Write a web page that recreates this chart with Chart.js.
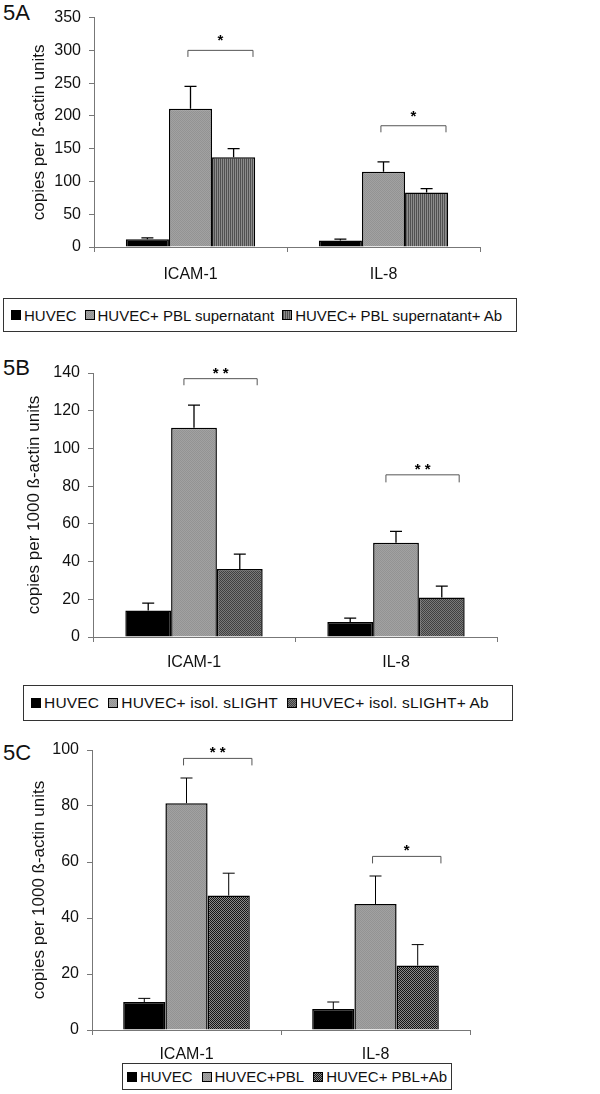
<!DOCTYPE html>
<html>
<head>
<meta charset="utf-8">
<script src="https://cdn.jsdelivr.net/npm/chart.js@4.4.1/dist/chart.umd.min.js"></script>
<style>
  html, body { margin:0; padding:0; background:#fff; }
  body { width:600px; height:1094px; position:relative; overflow:hidden; font-family:'Liberation Sans', Arial, sans-serif; color:#111; }
  canvas { position:absolute; left:0; }
  .plabel { position:absolute; left:3px; font-size:22px; line-height:22px; }
  .legend { position:absolute; border:1px solid #333; box-sizing:border-box; display:flex; align-items:center; white-space:nowrap; background:#fff; z-index:2; }
  .legend .item { display:flex; align-items:center; }
  .legend .sw { display:inline-block; width:10px; height:10px; border:1px solid #000; box-sizing:border-box; margin-right:3px; }
</style>
</head>
<body>
<div class="plabel" style="top:2px">5A</div>
<div class="plabel" style="top:357px">5B</div>
<div class="plabel" style="top:742px">5C</div>
<canvas id="cA" width="600" height="290" style="top:0px"></canvas>
<canvas id="cB" width="600" height="340" style="top:340px"></canvas>
<canvas id="cC" width="600" height="362" style="top:700px"></canvas>
<div id="lA" class="legend" style="left:3px;top:298px;width:514px;height:34px;padding-left:7px;font-size:15px;"></div>
<div id="lB" class="legend" style="left:23px;top:685px;width:490px;height:36px;padding-left:7px;font-size:15.5px;letter-spacing:0.2px;"></div>
<div id="lC" class="legend" style="left:122px;top:1063px;width:330px;height:27px;padding-left:4px;font-size:15px;"></div>
<script>
// ---------- data ----------
const categories = ['ICAM-1', 'IL-8'];

// Panel 5A
const aSeries = ['HUVEC', 'HUVEC+ PBL supernatant', 'HUVEC+ PBL supernatant+ Ab'];
const aHuvec = [12, 10];
const aHuvecErr = [14, 12];
const aSup = [211, 115];
const aSupErr = [245, 130];
const aSupAb = [137, 83];
const aSupAbErr = [150, 89];
const aBracketTop = [300, 185];
const aBracketDrop = [290, 175];
const aStars = ['*', '*'];
const aYMax = 350, aYStep = 50;
const aYTitle = 'copies per ß-actin units';

// Panel 5B
const bSeries = ['HUVEC', 'HUVEC+ isol. sLIGHT', 'HUVEC+ isol. sLIGHT+ Ab'];
const bHuvec = [14, 8];
const bHuvecErr = [18, 10];
const bSl = [111, 50];
const bSlErr = [123, 56];
const bSlAb = [36, 21];
const bSlAbErr = [44, 27];
const bBracketTop = [137, 86];
const bBracketDrop = [133.5, 82];
const bStars = ['* *', '* *'];
const bYMax = 140, bYStep = 20;
const bYTitle = 'copies per 1000 ß-actin units';

// Panel 5C
const cSeries = ['HUVEC', 'HUVEC+PBL', 'HUVEC+ PBL+Ab'];
const cHuvec = [10, 7.5];
const cHuvecErr = [11.3, 10];
const cPbl = [81, 45];
const cPblErr = [90, 55];
const cPblAb = [48, 23];
const cPblAbErr = [56, 30.5];
const cBracketTop = [97, 62];
const cBracketDrop = [94.5, 59.5];
const cStars = ['* *', '*'];
const cYMax = 100, cYStep = 20;
const cYTitle = 'copies per 1000 ß-actin units';

// ---------- patterns ----------
function patternCanvas(kind) {
  const c = document.createElement('canvas');
  c.width = 2; c.height = 2;
  const g = c.getContext('2d');
  const px = (x, y, col) => { g.fillStyle = col; g.fillRect(x, y, 1, 1); };
  if (kind === 'gray') { px(0,0,'#939393'); px(1,0,'#a2a2a2'); px(0,1,'#a2a2a2'); px(1,1,'#939393'); }
  else if (kind === 'stripe') { px(0,0,'#505050'); px(0,1,'#505050'); px(1,0,'#8c8c8c'); px(1,1,'#8c8c8c'); }
  else if (kind === 'dots') { px(0,0,'#404040'); px(1,0,'#7a7a7a'); px(0,1,'#7a7a7a'); px(1,1,'#404040'); }
  else if (kind === 'checker') { px(0,0,'#151515'); px(1,0,'#8a8a8a'); px(0,1,'#8a8a8a'); px(1,1,'#151515'); }
  else { g.fillStyle = '#000'; g.fillRect(0,0,2,2); }
  return c;
}
const ctx0 = document.createElement('canvas').getContext('2d');
function pat(kind) { return ctx0.createPattern(patternCanvas(kind), 'repeat'); }
function patURL(kind) { return patternCanvas(kind).toDataURL(); }

const FONT = "'Liberation Sans', Arial, sans-serif";

function annotPlugin(errs, brTop, brDrop, stars, o) {
  return {
    id: 'annot',
    afterDatasetsDraw(chart) {
      const ctx = chart.ctx, y = chart.scales.y;
      ctx.save();
      ctx.strokeStyle = '#000';
      ctx.lineWidth = o.errW;
      errs.forEach((arr, di) => {
        chart.getDatasetMeta(di).data.forEach((bar, j) => {
          const yt = y.getPixelForValue(arr[j]);
          ctx.beginPath();
          ctx.moveTo(bar.x, bar.y);
          ctx.lineTo(bar.x, yt);
          ctx.moveTo(bar.x - o.cap, yt);
          ctx.lineTo(bar.x + o.cap, yt);
          ctx.stroke();
        });
      });
      ctx.strokeStyle = '#555';
      ctx.lineWidth = 1;
      categories.forEach((c, j) => {
        const b1 = chart.getDatasetMeta(1).data[j];
        const b2 = chart.getDatasetMeta(2).data[j];
        const x1 = b1.x - o.l * b1.width, x2 = b2.x + o.r * b2.width;
        const yt = y.getPixelForValue(brTop[j]), yd = y.getPixelForValue(brDrop[j]);
        ctx.beginPath();
        ctx.moveTo(x1, yd); ctx.lineTo(x1, yt); ctx.lineTo(x2, yt); ctx.lineTo(x2, yd);
        ctx.stroke();
        ctx.fillStyle = '#000';
        ctx.font = 'bold 15px ' + FONT;
        ctx.textAlign = 'center';
        ctx.textBaseline = 'alphabetic';
        ctx.fillText(stars[j], (x1 + x2) / 2, yt - o.s);
      });
      ctx.restore();
    }
  };
}

function makeChart(id, series, vals, kinds, yMax, yStep, yTitle, lay, errs, brTop, brDrop, stars, ann) {
  return new Chart(document.getElementById(id), {
    type: 'bar',
    data: {
      labels: categories,
      datasets: series.map((s, i) => ({
        label: s,
        data: vals[i],
        backgroundColor: kinds[i] === 'black' ? '#000' : pat(kinds[i]),
        borderColor: '#000',
        borderWidth: 1.5,
        barPercentage: 1,
        categoryPercentage: lay.cat
      }))
    },
    options: {
      responsive: false,
      animation: false,
      devicePixelRatio: 1,
      layout: { padding: { left: 0, right: lay.right, top: lay.top, bottom: 0 } },
      plugins: { legend: { display: false }, tooltip: { enabled: false } },
      scales: {
        x: {
          grid: { display: true, drawOnChartArea: false, drawTicks: true, tickLength: 5, color: '#777', offset: true },
          border: { display: true, color: '#777', width: 1 },
          ticks: { font: { family: FONT, size: 16 }, color: '#111', padding: lay.xpad },
          afterFit(s) { s.height = lay.xh; }
        },
        y: {
          min: 0, max: yMax,
          ticks: { stepSize: yStep, font: { family: FONT, size: 16 }, color: '#111', padding: lay.ypad },
          grid: { drawOnChartArea: false, drawTicks: true, tickLength: 5, color: '#777' },
          border: { display: true, color: '#777', width: 1 },
          title: { display: true, text: yTitle, color: '#111', font: { family: FONT, size: 17 }, padding: { top: lay.tpad, bottom: 0 } },
          afterFit(s) { s.width = lay.yw; }
        }
      }
    },
    plugins: [annotPlugin(errs, brTop, brDrop, stars, ann)]
  });
}

makeChart('cA', aSeries, [aHuvec, aSup, aSupAb], ['black', 'gray', 'stripe'], aYMax, aYStep, aYTitle,
  { cat: 0.67, right: 120, top: 14, xh: 43, xpad: 13, ypad: 8, tpad: 29, yw: 94 },
  [aHuvecErr, aSupErr, aSupAbErr], aBracketTop, aBracketDrop, aStars,
  { errW: 1.3, cap: 6, l: 0.06, r: 0.45, s: 5 });

makeChart('cB', bSeries, [bHuvec, bSl, bSlAb], ['black', 'gray', 'dots'], bYMax, bYStep, bYTitle,
  { cat: 0.68, right: 103, top: 33, xh: 43, xpad: 11, ypad: 8, tpad: 24, yw: 93 },
  [bHuvecErr, bSlErr, bSlAbErr], bBracketTop, bBracketDrop, bStars,
  { errW: 1.3, cap: 6, l: 0.22, r: 0.38, s: 1 });

makeChart('cC', cSeries, [cHuvec, cPbl, cPblAb], ['black', 'gray', 'checker'], cYMax, cYStep, cYTitle,
  { cat: 0.67, right: 130, top: 50, xh: 32, xpad: 10, ypad: 8, tpad: 29, yw: 92 },
  [cHuvecErr, cPblErr, cPblAbErr], cBracketTop, cBracketDrop, cStars,
  { errW: 1, cap: 6, l: 0.07, r: 0.55, s: 1 });

// ---------- HTML legends ----------
function buildLegend(id, series, kinds, gap) {
  const el = document.getElementById(id);
  series.forEach((s, i) => {
    const it = document.createElement('span');
    it.className = 'item';
    if (i > 0) it.style.marginLeft = gap + 'px';
    const sw = document.createElement('span');
    sw.className = 'sw';
    if (kinds[i] === 'black') sw.style.background = '#000';
    else sw.style.backgroundImage = 'url(' + patURL(kinds[i]) + ')';
    const tx = document.createElement('span');
    tx.textContent = s;
    it.appendChild(sw); it.appendChild(tx);
    el.appendChild(it);
  });
}
buildLegend('lA', aSeries, ['black', 'gray', 'stripe'], 8);
buildLegend('lB', bSeries, ['black', 'gray', 'dots'], 9);
buildLegend('lC', cSeries, ['black', 'gray', 'checker'], 9);
</script>
</body>
</html>
